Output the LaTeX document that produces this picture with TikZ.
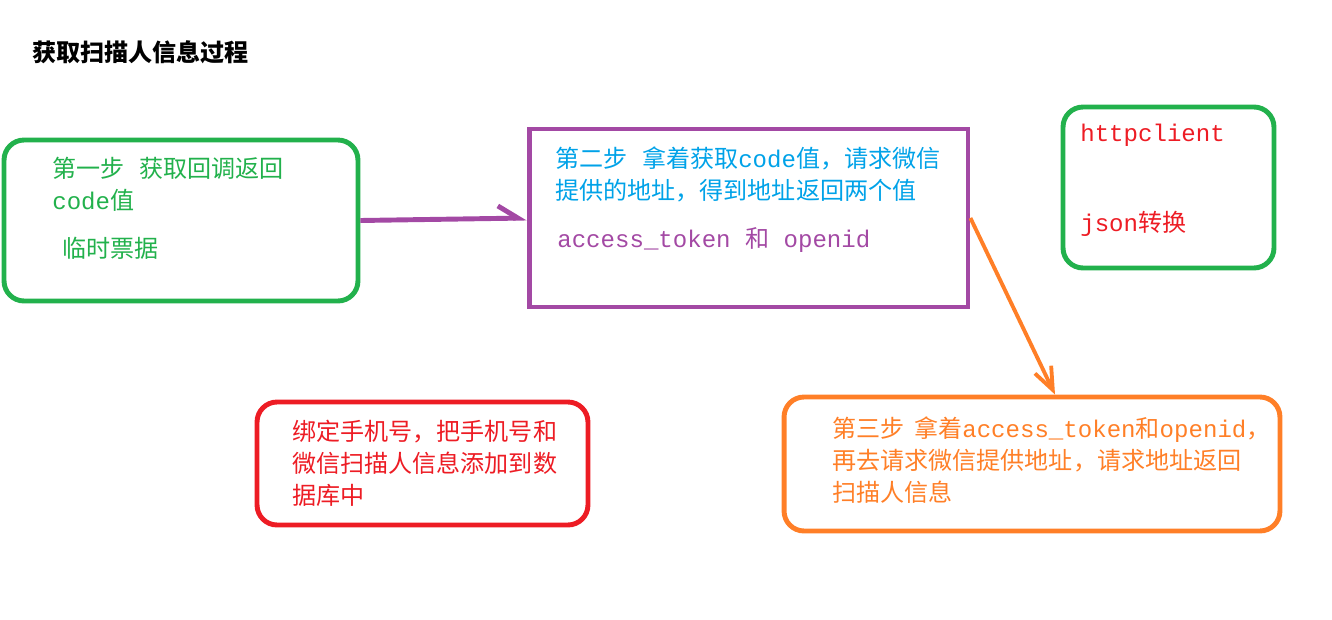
\documentclass[tikz,border=0pt]{standalone}
\usepackage{fontspec}
\setmainfont{Noto Sans CJK SC}
\newfontfamily\enfont{Liberation Mono}
\usepackage{tikz}
\usetikzlibrary{positioning,arrows.meta}
\definecolor{paintGreen}{HTML}{22B14C}
\definecolor{paintPurple}{HTML}{A349A4}
\definecolor{paintBlue}{HTML}{00A2E8}
\definecolor{paintOrange}{HTML}{FF7F27}
\definecolor{paintRed}{HTML}{ED1C24}
\newcommand{\en}[1]{{\enfont #1}}
\tikzset{
  roundbox/.style={draw=#1,line width=2.8pt,rounded corners=0.4cm,inner sep=0pt},
  sharpbox/.style={draw=#1,line width=2.8pt,inner sep=0pt},
  linetext/.style={anchor=west,inner sep=0pt,align=left,text=#1,
    font=\fontsize{13.7pt}{18.2pt}\selectfont},
  purplearrow/.style={-{Straight Barb[harpoon,length=4mm,width=5mm,line width=2.8pt]},
    line width=2.8pt,draw=paintPurple},
  orangearrow/.style={-{Straight Barb[length=4.5mm,width=3.6mm,line width=2.2pt]},
    line width=2.2pt,draw=paintOrange}
}

\begin{document}
\begin{tikzpicture}[x=0.02cm,y=-0.02cm]
  \useasboundingbox (0,0) rectangle (1332,619);
  % title
  \node[linetext=black,font=\fontsize{13.7pt}{18.2pt}\selectfont\bfseries] (title) at (32,52) {获取扫描人信息过程};
  % boxes
  \node[roundbox=paintGreen,minimum width=7.08cm,minimum height=3.22cm] (first) at (181,220.5) {};
  \node[sharpbox=paintPurple,minimum width=8.78cm,minimum height=3.56cm] (second) at (748.5,218) {};
  \node[roundbox=paintGreen,minimum width=4.22cm,minimum height=3.22cm] (tools) at (1168.5,187.5) {};
  \node[roundbox=paintRed,minimum width=6.62cm,minimum height=2.46cm] (bind) at (422.5,463.5) {};
  \node[roundbox=paintOrange,minimum width=9.92cm,minimum height=2.68cm] (third) at (1032,464) {};
  % texts
  \node[linetext=paintGreen] (firstA) at (52,184) {第一步\hspace{0.6em}获取回调返回\\\en{code}值};
  \node[linetext=paintGreen] (firstB) at (62,248) {临时票据};
  \node[linetext=paintBlue] (secondA) at (555,174) {第二步\hspace{0.6em}拿着获取\en{code}值，请求微信\\提供的地址，得到地址返回两个值};
  \node[linetext=paintPurple] (secondB) at (557,240) {\en{access\_token }和\en{ openid}};
  \node[linetext=paintRed] (toolsA) at (1080,135) {\en{httpclient}};
  \node[linetext=paintRed] (toolsB) at (1080,224) {\en{json}转换};
  \node[linetext=paintRed] (bindA) at (292,463) {绑定手机号，把手机号和\\微信扫描人信息添加到数\\据库中};
  \node[linetext=paintOrange] (thirdA) at (832,460) {第三步\hspace{0.4em}拿着\en{access\_token}和\en{openid}，\\再去请求微信提供地址，请求地址返回\\扫描人信息};
  % connectors
  \draw[purplearrow] (first.east) -- (second.west);
  \draw[orangearrow] (second.east) -- ([xshift=0.46cm]third.north);
\end{tikzpicture}
\end{document}
